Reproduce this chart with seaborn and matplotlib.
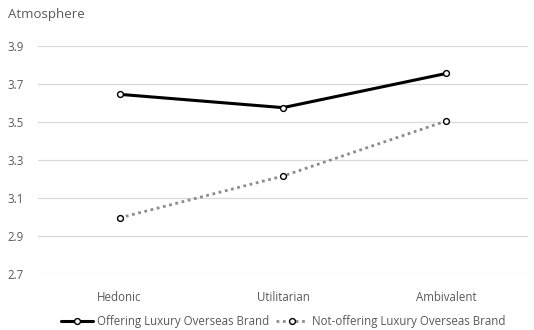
import matplotlib
matplotlib.use("Agg")
import matplotlib.pyplot as plt
import seaborn as sns
import pandas as pd

categories = ["Hedonic", "Utilitarian", "Ambivalent"]
offering = [3.645, 3.575, 3.755]
not_offering = [2.995, 3.215, 3.505]
series_names = ["Offering Luxury Overseas Brand", "Not-offering Luxury Overseas Brand"]
yticks = [2.7, 2.9, 3.1, 3.3, 3.5, 3.7, 3.9]

sns.set_theme(style="white")
plt.rcParams['font.family'] = ['Open Sans', 'DejaVu Sans']

df = pd.DataFrame({
    "cat": categories * 2,
    "x": list(range(len(categories))) * 2,
    "val": offering + not_offering,
    "series": [series_names[0]] * 3 + [series_names[1]] * 3,
})

fig = plt.figure(figsize=(5.34, 3.30), dpi=100)
ax = fig.add_axes([0.071, 0.170, 0.918, 0.691])

sns.lineplot(data=df[df.series == series_names[0]], x="x", y="val", ax=ax,
             color="black", lw=2.2, marker="o", markersize=4.2,
             markerfacecolor="white", markeredgecolor="black", markeredgewidth=1.0,
             label=series_names[0], zorder=3)
sns.lineplot(data=df[df.series == series_names[1]], x="x", y="val", ax=ax,
             color="#8c8c8c", lw=2.0, linestyle=(0, (1, 1.3)), marker="o", markersize=4.2,
             markerfacecolor="white", markeredgecolor="black", markeredgewidth=1.0,
             label=series_names[1], zorder=3)

ax.set_xlim(-0.5, 2.5)
ax.set_ylim(2.7, 3.9)
ax.set_yticks(yticks)
ax.set_yticklabels([f"{v:.1f}" for v in yticks])
ax.set_xticks(range(len(categories)))
ax.set_xticklabels(categories)
ax.set_xlabel("")
ax.set_ylabel("")
ax.grid(axis="y", color="#d9d9d9", lw=0.9)
for s in ax.spines.values():
    s.set_visible(False)
ax.tick_params(axis="both", length=0, labelsize=8.3, colors="#595959")
ax.tick_params(axis="y", pad=10)
ax.tick_params(axis="x", pad=12)

fig.text(0.015, 0.955, "Atmosphere", fontsize=9.5, color="#595959", ha="left", va="center")

leg = ax.legend(loc="center", bbox_to_anchor=(0.5, -0.21), ncol=2, frameon=False,
                fontsize=8.3, handlelength=2.8, columnspacing=0.6, handletextpad=0.3,
                borderaxespad=0, borderpad=0)
for t in leg.get_texts():
    t.set_color("#595959")

fig.savefig("out.png", dpi=100)
